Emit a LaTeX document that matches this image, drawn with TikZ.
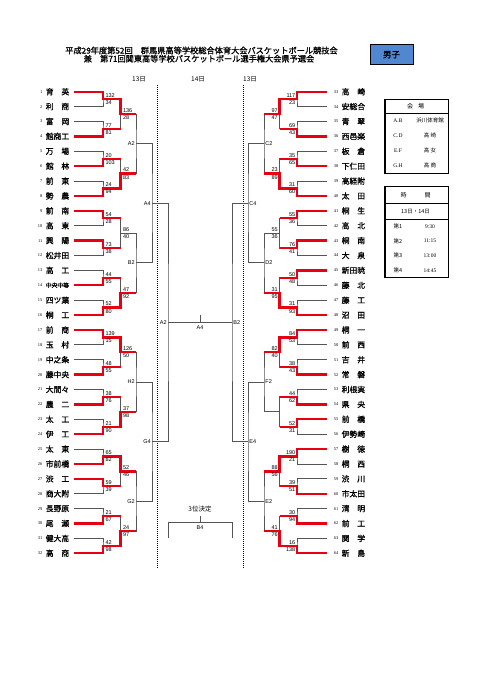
\documentclass[tikz,border=0pt]{standalone}
\usepackage{fontspec}
\setmainfont{Liberation Sans}
\newfontfamily\ser{Liberation Serif}
\newfontfamily\jp{Noto Sans CJK JP}
\newfontfamily\jpb[FakeBold=1.2]{Noto Sans CJK JP}
\usetikzlibrary{positioning,calc}

\definecolor{bgray}{RGB}{85,85,85}
\definecolor{boyblue}{RGB}{80,135,208}

\tikzset{
  line/.style={draw=bgray,line width=0.9pt},
  redpath/.style={draw={rgb,255:red,230;green,0;blue,18},line width=2.4pt},
  daysep/.style={draw=black,line width=1pt,densely dotted},
  team/.style={font=\jpb\fontsize{7.8}{8}\selectfont,inner sep=0pt},
  seed/.style={font=\ser\fontsize{4.4}{5}\selectfont,inner sep=0pt},
  score/.style={font=\fontsize{5.5}{6}\selectfont,inner sep=0pt},
  court/.style={font=\fontsize{5.5}{6}\selectfont,inner sep=0pt},
  day/.style={font=\jp\fontsize{6.5}{7}\selectfont,inner sep=0pt},
  boxjp/.style={font=\jp\fontsize{5.5}{6}\selectfont,inner sep=0pt},
  boxser/.style={font=\ser\fontsize{5.5}{6}\selectfont,inner sep=0pt},
  frame/.style={draw=black,line width=1.3pt},
  frameline/.style={draw=black,line width=1pt},
  ltop/.style={score,anchor=south west,xshift=2.3pt,yshift=1.4pt},
  lbot/.style={score,anchor=north west,xshift=2.3pt,yshift=-1.4pt},
  rtop/.style={score,anchor=south east,xshift=-1.5pt,yshift=1.4pt},
  rbot/.style={score,anchor=north east,xshift=-1.5pt,yshift=-1.4pt},
}

\begin{document}
\begin{tikzpicture}[x=1pt,y=-1pt]
\useasboundingbox[fill=white] (0,0) rectangle (481,680);

% heading
\node[font=\jpb\fontsize{8.2}{9}\selectfont,inner sep=0pt] (title1) at (201.5,50.5) {平成29年度第52回　群馬県高等学校総合体育大会バスケットボール競技会};
\node[font=\jpb\fontsize{8.2}{9}\selectfont,inner sep=0pt] (title2) at (199,58.7) {兼　第71回関東高等学校バスケットボール選手権大会県予選会};
\node[draw=black,line width=1pt,fill=boyblue,minimum width=43pt,minimum height=20.5pt,inner sep=0pt,font=\jpb\fontsize{8.5}{9}\selectfont] (boys) at (391.5,54.7) {男子};

\node[day] (dayL) at (139,79) {13日};
\node[day] (dayM) at (198,79) {14日};
\node[day] (dayR) at (250,79) {13日};
\coordinate (sepLa) at (157,85); \coordinate (sepLb) at (157,568);
\coordinate (sepRa) at (243,85); \coordinate (sepRb) at (243,568);
\draw[daysep] (sepLa) -- (sepLb);
\draw[daysep] (sepRa) -- (sepRb);

% teams
\foreach \nm [count=\n] in {育　英,利　商,富　岡,館商工,万　場,館　林,前　東,勢　農,前　南,高　東,興　陽,松井田,高　工,{{\fontsize{5.8}{6}\selectfont 中央中等}},四ツ葉,桐　工,前　商,玉　村,中之条,藤中央,大間々,農　二,太　工,伊　工,太　東,市前橋,渋　工,商大附,長野原,尾　瀬,健大高,高　商}{
  \pgfmathsetmacro\y{91.7+(\n-1)*14.89}
  \node[seed,anchor=east] (n\n) at (42.5,\y) {\n};
  \node[team,anchor=west] (T\n) at (45.6,\y) {\nm};
  \coordinate (P-L-0-\n) at (73.5,\y);
}
\foreach \nm [count=\n from 33] in {高　崎,安総合,青　翠,西邑楽,板　倉,下仁田,高経附,太　田,桐　生,高　北,桐　南,大　泉,新田暁,藤　北,藤　工,沼　田,桐　一,前　西,吉　井,常　磐,利根実,県　央,前　橋,伊勢崎,樹　徳,桐　西,渋　川,市太田,清　明,前　工,関　学,新　島}{
  \pgfmathtruncatemacro\k{\n-32}
  \pgfmathsetmacro\y{91.7+(\k-1)*14.89}
  \node[seed,anchor=east] (n\n) at (338.5,\y) {\n};
  \node[team,anchor=west] (T\n) at (341.5,\y) {\nm};
  \coordinate (P-R-0-\k) at (326.5,\y);
}

% bracket
\foreach \s/\sg/\o in {L/1/0,R/-1/400}{
  \foreach \l/\xl/\xn/\cnt [remember=\l as \pl (initially 0)] in {1/103/120.5/16,2/120.5/136/8,3/136/152/4,4/152/168/2}{
    \foreach \m in {1,...,\cnt}{
      \pgfmathtruncatemacro\a{2*\m-1}
      \pgfmathtruncatemacro\b{2*\m}
      \pgfmathsetmacro\yy{91.7+((\m-1)*2^\l+(2^\l-1)/2)*14.89}
      \pgfmathsetmacro\xa{\o+\sg*\xl}
      \pgfmathsetmacro\xb{\o+\sg*\xn}
      \coordinate (P-\s-\l-\m) at (\xa,\yy);
      \coordinate (Q-\s-\l-\m) at (\xb,\yy);
      \draw[line] (P-\s-\pl-\a) -| (P-\s-\l-\m) |- (P-\s-\pl-\b);
    }
  }
}
\coordinate (F-L) at (168,322.5);
\coordinate (F-R) at (232,322.5);
\draw[line] (P-L-4-1) -| (F-L) |- (P-L-4-2);
\draw[line] (P-R-4-1) -| (F-R) |- (P-R-4-2);
\draw[line] (F-L) -- (F-R);
\coordinate (finTop) at (200,315);
\coordinate (finMid) at (200,322.5);
\draw[line] (finTop) -- (finMid);
\node[court] (final) at (200,327.8) {A4};

% 3rd place
\node[day] (third) at (200,509.3) {3位決定};
\coordinate (thTop) at (200,516); \coordinate (thMid) at (200,522.7);
\coordinate (thL) at (168,538.3); \coordinate (thR) at (232,522.7); \coordinate (thRd) at (232,538.3);
\draw[line] (thL) |- (thR) -- (thRd);
\draw[line] (thTop) -- (thMid);
\node[court] (bronze) at (200,527.8) {B4};

% winners
\foreach \wc [count=\m] in {1,4,6,8,9,11,14,16,17,20,22,24,26,27,30,32}
  \draw[redpath] (P-L-0-\wc) -| (P-L-1-\m) -- (Q-L-1-\m);
\foreach \wc [count=\m] in {1,4,6,8,9,11,13,16,17,20,22,23,25,28,30,32}
  \draw[redpath] (P-R-0-\wc) -| (P-R-1-\m) -- (Q-R-1-\m);
\foreach \wc/\m in {1/1,4/2,8/4,9/5,12/6,13/7,16/8}
  \draw[redpath] (P-L-1-\wc) -| (P-L-2-\m) -- (Q-L-2-\m);
\foreach \wc/\m in {1/1,4/2,8/4,9/5,13/7,16/8}
  \draw[redpath] (P-R-1-\wc) -| (P-R-2-\m) -- (Q-R-2-\m);

% results
\foreach \t/\u [count=\m] in {132/34,77/81,20/103,24/94,54/28,73/38,44/55,52/80,139/15,48/55,38/76,21/90,65/82,59/39,21/67,42/98}{
  \node[ltop] (sL1a\m) at (P-L-1-\m) {\t};
  \node[lbot] (sL1b\m) at (P-L-1-\m) {\u};
}
\foreach \t/\u [count=\m] in {136/28,42/83,86/40,47/92,126/50,37/98,52/46,24/97}{
  \node[ltop] (sL2a\m) at (P-L-2-\m) {\t};
  \node[lbot] (sL2b\m) at (P-L-2-\m) {\u};
}
\foreach \t/\u [count=\m] in {117/23,69/43,35/65,31/60,55/36,76/41,50/48,31/93,84/53,38/43,44/62,52/31,190/21,39/51,30/94,16/138}{
  \node[rtop] (sR1a\m) at (P-R-1-\m) {\t};
  \node[rbot] (sR1b\m) at (P-R-1-\m) {\u};
}
\foreach \t/\u/\m in {97/47/1,23/89/2,55/36/3,31/95/4,82/40/5,88/56/7,41/76/8}{
  \node[rtop] (sR2a\m) at (P-R-2-\m) {\t};
  \node[rbot] (sR2b\m) at (P-R-2-\m) {\u};
}

% game labels
\foreach \g/\p in {A2/P-L-3-1,B2/P-L-3-2,H2/P-L-3-3,G2/P-L-3-4,A4/P-L-4-1,G4/P-L-4-2,A2/F-L}
  \node[court,anchor=east,xshift=-1.2pt] (g-\p) at (\p) {\g};
\foreach \g/\p in {C2/P-R-3-1,D2/P-R-3-2,F2/P-R-3-3,E2/P-R-3-4,C4/P-R-4-1,E4/P-R-4-2,B2/F-R}
  \node[court,anchor=west,xshift=1.2pt] (g-\p) at (\p) {\g};

% venues
\draw[frame] (385,99.3) rectangle (448.3,173.3);
\draw[frameline] (385,113.3) -- (448.3,113.3);
\node[boxjp,font=\jp\fontsize{6}{7}\selectfont] (venueH) at (415.5,106.3) {会\hspace{5pt}場};
\foreach \c/\v [count=\i] in {A.B/浜川体育館,C.D/高 崎,E.F/高 女,G.H/高 商}{
  \pgfmathsetmacro\y{105.8+15*\i}
  \node[boxser] (court\i) at (398,\y) {\c};
  \node[boxjp] (place\i) at (430,\y) {\v};
}

% times
\draw[frame] (385,186.7) rectangle (448.3,277.7);
\draw[frameline] (385,203.3) -- (448.3,203.3);
\draw[frameline] (385,219.3) -- (448.3,219.3);
\node[boxjp,font=\jp\fontsize{6}{7}\selectfont] (timeH) at (415.5,195.5) {時\hspace{18pt}間};
\node[boxjp] (days) at (415.5,211.3) {13日・14日};
\foreach \g/\h [count=\i] in {1/9:30,2/11:15,3/13:00,4/14:45}{
  \pgfmathsetmacro\y{212+14.6*\i}
  \node[boxjp] (slot\i) at (398,\y) {第\g};
  \node[boxser] (hour\i) at (430,\y) {\h};
}
\end{tikzpicture}
\end{document}
